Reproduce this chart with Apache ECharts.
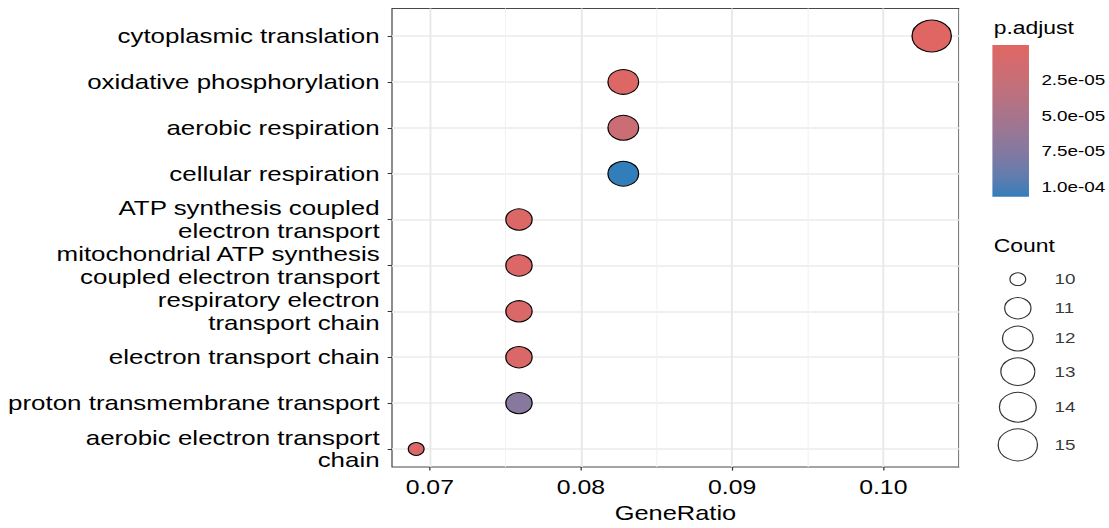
<!DOCTYPE html>
<html><head><meta charset="utf-8">
<script src="https://cdn.jsdelivr.net/npm/echarts@6/dist/echarts.min.js"></script>
<style>
html,body{margin:0;padding:0;background:#fff;overflow:hidden;}
#wrap{width:1109px;height:528px;overflow:hidden;}
#chart{width:894px;height:528px;transform:scale(1.2405,1);transform-origin:0 0;}
</style></head><body><div id="wrap"><div id="chart"></div></div>
<script>
// ---- data ----
const categories = [
  'cytoplasmic translation',
  'oxidative phosphorylation',
  'aerobic respiration',
  'cellular respiration',
  'ATP synthesis coupled\nelectron transport',
  'mitochondrial ATP synthesis\ncoupled electron transport',
  'respiratory electron\ntransport chain',
  'electron transport chain',
  'proton transmembrane transport',
  'aerobic electron transport\nchain'
];
const geneRatio = [0.1032, 0.0828, 0.0828, 0.0828, 0.0759, 0.0759, 0.0759, 0.0759, 0.0759, 0.0691];
const counts    = [15, 12, 12, 12, 11, 11, 11, 11, 11, 10];
const pAdjust   = [1.2e-9, 3.0e-6, 2.1e-5, 1.07e-4, 5.2e-6, 5.2e-6, 6.0e-6, 6.5e-6, 7.3e-5, 5.0e-6];
const xTicks = [0.07, 0.08, 0.09, 0.10];
const pTicks = [2.5e-5, 5.0e-5, 7.5e-5, 1.0e-4];
const countBreaks = [10, 11, 12, 13, 14, 15];

// ---- styles ----
const FONT = '"Liberation Sans", Arial, Helvetica, sans-serif';
const pLow = '#e06663', pHigh = '#327eba';
const X_MIN = 0.0675, X_MAX = 0.105;
const SIZE_MIN = 12.7, SIZE_MAX = 31.7;
const KEY_MIN = 29, KEY_PAD = 7;

// Lab interpolation (as ggplot does)
function hex2rgb(h){return [1,3,5].map(i=>parseInt(h.substr(i,2),16)/255);}
function lin(c){return c<=0.04045?c/12.92:Math.pow((c+0.055)/1.055,2.4);}
function delin(c){return c<=0.0031308?12.92*c:1.055*Math.pow(c,1/2.4)-0.055;}
function rgb2lab(rgb){
  const [r,g,b]=rgb.map(lin);
  const X=(0.4124564*r+0.3575761*g+0.1804375*b)/0.95047;
  const Y=(0.2126729*r+0.7151522*g+0.0721750*b);
  const Z=(0.0193339*r+0.1191920*g+0.9503041*b)/1.08883;
  const f=t=>t>216/24389?Math.cbrt(t):(24389/27*t+16)/116;
  const fx=f(X),fy=f(Y),fz=f(Z);
  return [116*fy-16,500*(fx-fy),200*(fy-fz)];
}
function lab2rgb(lab){
  const [L,a,b]=lab; const fy=(L+16)/116, fx=fy+a/500, fz=fy-b/200;
  const finv=t=>{const t3=t*t*t; return t3>216/24389?t3:(116*t-16)/(24389/27);};
  const X=finv(fx)*0.95047, Y=finv(fy), Z=finv(fz)*1.08883;
  const r= 3.2404542*X-1.5371385*Y-0.4985314*Z;
  const g=-0.9692660*X+1.8760108*Y+0.0415560*Z;
  const bb=0.0556434*X-0.2040259*Y+1.0572252*Z;
  return [r,g,bb].map(c=>Math.round(Math.min(1,Math.max(0,delin(c)))*255));
}
const labLow = rgb2lab(hex2rgb(pLow)), labHigh = rgb2lab(hex2rgb(pHigh));
const NSTOP = 20;
const stopColors = [];
for (let k=0;k<=NSTOP;k++){
  const t=k/NSTOP;
  const lab=labLow.map((v,i)=>v+(labHigh[i]-v)*t);
  const c=lab2rgb(lab);
  stopColors.push('rgb('+c.join(',')+')');
}
const colorStops = stopColors.map((c,k)=>({offset:k/NSTOP,color:c}));

const cMin = Math.min(...counts), cMax = Math.max(...counts);
function diam(c){return SIZE_MIN+(SIZE_MAX-SIZE_MIN)*Math.sqrt((c-cMin)/(cMax-cMin));}
const pMin = Math.min(...pAdjust), pMax = Math.max(...pAdjust);
function fmtP(v){
  if (pTicks.some(t=>Math.abs(t-v)<1e-12)) return v.toExponential(1).replace(/e([+-])(\d)$/,'e$10$2');
  return '';
}
// size-legend key layout (key height grows with symbol size, as in ggplot)
const keyH = countBreaks.map(c=>Math.max(KEY_MIN, diam(c)+KEY_PAD));
const keyTotal = keyH.reduce((a,b)=>a+b,0);
const keyCenter = keyH.map((h,i)=>keyH.slice(0,i).reduce((a,b)=>a+b,0)+h/2);
const KEY_TOP = 279.2 - keyH[0]/2;
const T = 'rgba(0,0,0,0)';

const chart = echarts.init(document.getElementById('chart'), null, {renderer:'svg'});
chart.setOption({
  animation:false,
  backgroundColor:'#fff',
  textStyle:{fontFamily:FONT},
  title:[
    {text:'p.adjust', left:801, top:18, padding:0, textStyle:{fontFamily:FONT,fontSize:18.5,fontWeight:'normal',color:'#000'}},
    {text:'Count', left:801, top:236, padding:0, textStyle:{fontFamily:FONT,fontSize:18.5,fontWeight:'normal',color:'#000'}}
  ],
  grid:[
    {left:316, width:457, top:36, height:413, show:false},
    {left:316, width:457, top:8.5, height:468, show:true, borderColor:'#484848', borderWidth:1, backgroundColor:T},
    {left:800, width:30.4, top:45, height:151.7, show:false},
    {left:800, width:41, top:KEY_TOP, height:keyTotal, show:false}
  ],
  visualMap:[{type:'continuous', show:false, seriesIndex:0, dimension:2, min:pMin, max:pMax, inRange:{color:stopColors}}],
  xAxis:[
    {gridIndex:0, type:'value', min:X_MIN, max:X_MAX, show:false},
    {gridIndex:1, type:'value', min:X_MIN, max:X_MAX, interval:0.0025, position:'bottom',
      axisLine:{show:false}, axisTick:{show:false}, axisLabel:{show:false},
      splitLine:{show:true, lineStyle:{color:[T,T,T,'#F2F2F2'], width:0.9}}},
    {gridIndex:1, type:'value', min:X_MIN, max:X_MAX, interval:0.0025, position:'bottom',
      axisLine:{show:false}, axisTick:{show:false}, axisLabel:{show:false},
      splitLine:{show:true, lineStyle:{color:[T,'#E8E8E8',T,T], width:1.5}}},
    {gridIndex:1, type:'value', min:X_MIN, max:X_MAX, position:'bottom',
      axisLine:{show:false},
      axisTick:{show:true, customValues:xTicks, length:3.5, lineStyle:{color:'#333', width:1}},
      axisLabel:{customValues:xTicks, formatter:v=>v.toFixed(2), fontFamily:FONT, fontSize:20, color:'#000', margin:10},
      splitLine:{show:false},
      name:'GeneRatio', nameLocation:'middle', nameGap:33, nameTextStyle:{fontFamily:FONT, fontSize:20.5, color:'#000'}},
    {gridIndex:2, type:'category', data:['bar'], show:false},
    {gridIndex:3, type:'value', min:-1, max:1, show:false}
  ],
  yAxis:[
    {gridIndex:0, type:'category', data:categories, inverse:true, boundaryGap:false,
      axisLine:{show:false},
      axisTick:{show:true, interval:0, length:3.5, lineStyle:{color:'#333', width:1}},
      axisLabel:{interval:0, fontFamily:FONT, fontSize:20.9, color:'#000', margin:10, lineHeight:22.5},
      splitLine:{show:true, interval:0, lineStyle:{color:'#EBEBEB', width:1.7}}},
    {gridIndex:1, type:'value', min:0, max:1, show:false},
    {gridIndex:2, type:'value', min:0, max:pMax, inverse:true, interval:2.5e-5, position:'right',
      axisLine:{show:false},
      axisTick:{show:true, inside:true, length:6, lineStyle:{color:'rgba(255,255,255,0.85)', width:1}},
      axisLabel:{formatter:fmtP, showMinLabel:false, showMaxLabel:false, fontFamily:FONT, fontSize:15.2, color:'#000', margin:10},
      splitLine:{show:false}},
    {gridIndex:2, type:'value', min:0, max:pMax, inverse:true, interval:2.5e-5, position:'left',
      axisLine:{show:false},
      axisTick:{show:true, inside:true, length:6, lineStyle:{color:'rgba(255,255,255,0.85)', width:1}},
      axisLabel:{show:false}, splitLine:{show:false}},
    {gridIndex:3, type:'value', min:0, max:keyTotal, inverse:true, show:false}
  ],
  series:[
    {type:'scatter', xAxisIndex:0, yAxisIndex:0, z:5,
      data:categories.map((c,i)=>[geneRatio[i], i, pAdjust[i], counts[i]]),
      symbolSize:v=>diam(v[3]),
      itemStyle:{borderColor:'#000', borderWidth:1, opacity:1}},
    {type:'bar', xAxisIndex:4, yAxisIndex:2, data:[pMax], barWidth:'100%', silent:true,
      itemStyle:{color:{type:'linear', x:0, y:0, x2:0, y2:1, colorStops:colorStops}}},
    {type:'scatter', xAxisIndex:5, yAxisIndex:4,
      data:countBreaks.map((c,i)=>[0, keyCenter[i], c]),
      symbolSize:v=>diam(v[2]),
      itemStyle:{color:'rgba(255,255,255,0)', borderColor:'#000', borderWidth:1},
      label:{show:true, position:'inside', align:'left', verticalAlign:'middle', offset:[29.6,0],
        formatter:p=>String(p.value[2]), fontFamily:FONT, fontSize:15.2, color:'#000'}}
  ]
});
</script></body></html>
